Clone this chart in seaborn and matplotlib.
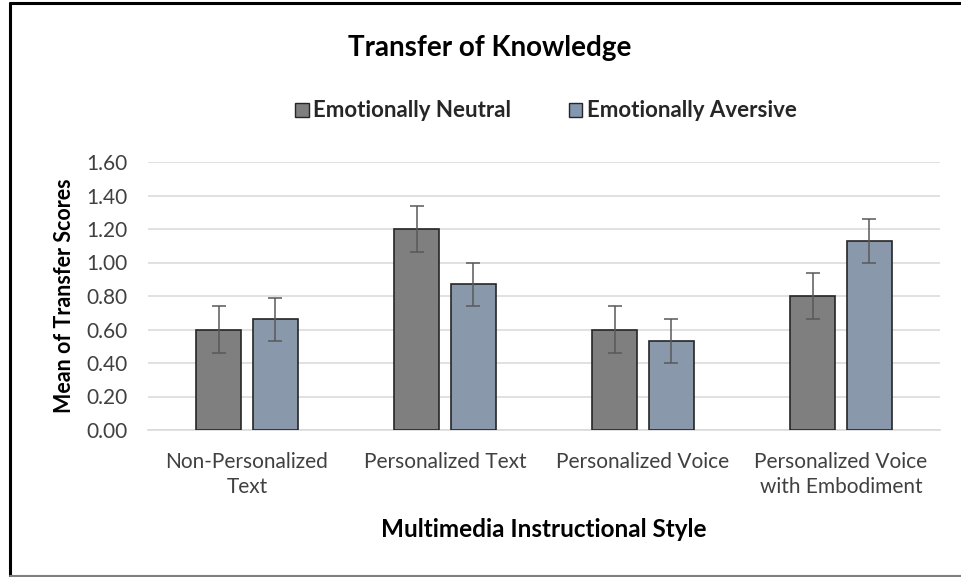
import pandas as pd
import matplotlib.pyplot as plt
import matplotlib.lines as mlines
import seaborn as sns

# dados
estilos = ["Non-Personalized\nText", "Personalized Text", "Personalized Voice",
           "Personalized Voice\nwith Embodiment"]
grupos = ["Emotionally Neutral", "Emotionally Aversive"]
media_neutral = [0.60, 1.20, 0.60, 0.80]
media_aversive = [0.66, 0.87, 0.53, 1.13]
erro_neutral = [0.14, 0.14, 0.14, 0.14]
erro_aversive = [0.13, 0.13, 0.13, 0.13]
ticks_y = [0.0, 0.2, 0.4, 0.6, 0.8, 1.0, 1.2, 1.4, 1.6]

cores = {"Emotionally Neutral": "#7f7f7f", "Emotionally Aversive": "#8497b0"}

dados = pd.DataFrame({
    "Estilo": estilos * 2,
    "Grupo": [grupos[0]] * 4 + [grupos[1]] * 4,
    "Media": media_neutral + media_aversive,
    "Erro": erro_neutral + erro_aversive,
})

sns.set_theme(style="white")
plt.rcParams['font.family'] = ['Lato', 'DejaVu Sans']

fig = plt.figure(figsize=(9.61, 5.77), dpi=100)
ax = fig.add_axes([148 / 961, 1 - 430 / 577, 792 / 961, 268 / 577])

sns.barplot(data=dados, x="Estilo", y="Media", hue="Grupo", order=estilos,
            hue_order=grupos, palette=cores, width=0.57, gap=0.2,
            errorbar=None, edgecolor="#262626", linewidth=1.2, ax=ax,
            legend=False, zorder=3)

# barras de erro nas posicoes das barras
for container, grupo in zip(ax.containers, grupos):
    sub = dados[dados["Grupo"] == grupo]
    xs = [p.get_x() + p.get_width() / 2 for p in container]
    ax.errorbar(xs, sub["Media"].values, yerr=sub["Erro"].values, fmt="none",
                ecolor="#595959", elinewidth=1.1, capsize=5, capthick=1.1,
                zorder=4)

ax.set_ylim(0, 1.6)
ax.set_xlim(-0.5, 3.5)
ax.set_yticks(ticks_y)
ax.set_yticklabels([f"{t:.2f}" for t in ticks_y])
ax.yaxis.grid(True, color="#d9d9d9", linewidth=1.1, zorder=0)
ax.set_axisbelow(True)
for lado in ["top", "right", "left"]:
    ax.spines[lado].set_visible(False)
ax.spines["bottom"].set_color("#d9d9d9")
ax.spines["bottom"].set_linewidth(1.1)
ax.tick_params(axis="y", length=0, pad=15, labelsize=15, labelcolor="#404040")
ax.tick_params(axis="x", length=0, pad=16, labelsize=15, labelcolor="#404040")
for lbl in ax.get_xticklabels():
    lbl.set_linespacing(1.3)

ax.set_xlabel("Multimedia Instructional Style", fontsize=17.5, fontweight="bold",
              color="#000000", labelpad=15)
ax.set_ylabel("Mean of Transfer Scores", fontsize=15.5, fontweight="bold",
              color="#000000", labelpad=8)

fig.text(490 / 961, 1 - 48 / 577, "Transfer of Knowledge", ha="center",
         va="center", fontsize=20, fontweight="bold", color="#000000")

# legenda
handles = [plt.Rectangle((0, 0), 1, 1, facecolor=cores[g], edgecolor="#262626",
                         linewidth=1.0) for g in grupos]
leg = fig.legend(handles, grupos, loc="center", bbox_to_anchor=(546 / 961, 1 - 111 / 577),
                 ncol=2, frameon=False, handlelength=0.6, handleheight=0.6,
                 handletextpad=0.2, columnspacing=2.6, prop={"weight": "bold", "size": 16})

# moldura do grafico
fig.add_artist(mlines.Line2D([10 / 961, 10 / 961], [1 - 3 / 577, 1 - 576 / 577],
                             color="black", linewidth=2.2, transform=fig.transFigure))
fig.add_artist(mlines.Line2D([10 / 961, 1.0], [1 - 3 / 577, 1 - 3 / 577],
                             color="black", linewidth=2.2, transform=fig.transFigure))
fig.add_artist(mlines.Line2D([10 / 961, 1.0], [1 - 576 / 577, 1 - 576 / 577],
                             color="#7f7f7f", linewidth=1.5, transform=fig.transFigure))

fig.savefig("out.png", dpi=100)
plt.close(fig)
